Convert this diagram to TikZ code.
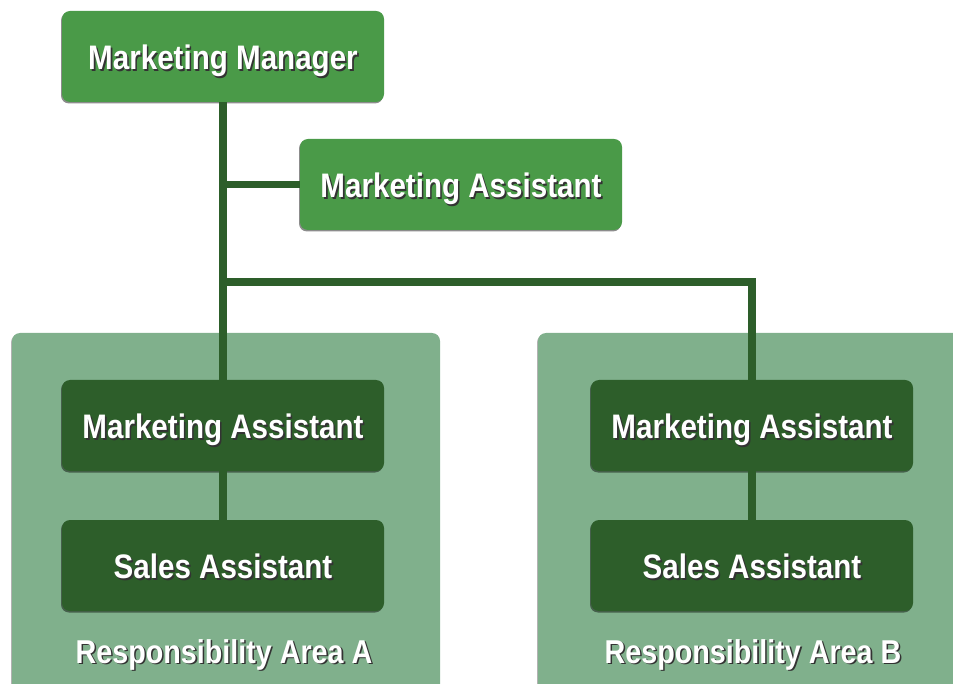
\documentclass[tikz,border=0pt]{standalone}
\usepackage{fontspec}
\setmainfont{Liberation Sans}[FakeStretch=0.87]
\usetikzlibrary{shadows}
\definecolor{midgreen}{RGB}{74,154,72}
\definecolor{darkgreen}{RGB}{45,94,42}
\definecolor{areagreen}{RGB}{128,176,140}
\definecolor{linegreen}{RGB}{45,94,42}
\newcommand\shtxt[1]{\rlap{\kern1.6pt\raisebox{-1.6pt}{\color{black!80}#1}}#1}
\tikzset{
  boxbase/.style={rounded corners=8pt, minimum width=322pt, minimum height=91pt,
    text=white, font=\fontsize{34}{38}\selectfont\bfseries, inner sep=0pt,
    text height=26pt, text depth=0pt,
    drop shadow={shadow xshift=-1pt, shadow yshift=-1.5pt, opacity=0.45, fill=black}},
  lightbox/.style={boxbase, fill=midgreen},
  darkbox/.style={boxbase, fill=darkgreen},
  areabox/.style={rounded corners=8pt, fill=areagreen,
    drop shadow={shadow xshift=-1pt, shadow yshift=-1.5pt, opacity=0.3, fill=black}},
  arealabel/.style={text=white, font=\fontsize{33}{36}\selectfont\bfseries, inner sep=0pt, anchor=base},
  conn/.style={draw=linegreen, line width=7.5pt}
}
\begin{document}
\begin{tikzpicture}[x=1pt,y=-1pt]
\useasboundingbox (0,0) rectangle (953,684);
% areas
\path[areabox] (12,333) rectangle (440,700);
\path[areabox] (538,333) rectangle (975,700);
% nodes
\node[lightbox] (mgr) at (223,56.5) {\shtxt{Marketing Manager}};
\node[lightbox] (atop) at (461,184.5) {\shtxt{Marketing Assistant}};
\node[darkbox] (maL) at (223,425.5) {\shtxt{Marketing Assistant}};
\node[darkbox] (saL) at (223,565.5) {\shtxt{Sales Assistant}};
\node[darkbox] (maR) at (752,425.5) {\shtxt{Marketing Assistant}};
\node[darkbox] (saR) at (752,565.5) {\shtxt{Sales Assistant}};
\node[arealabel] (labA) at (224,663) {\shtxt{Responsibility Area A}};
\node[arealabel] (labB) at (753,663) {\shtxt{Responsibility Area B}};
\coordinate (j) at (223,282);
% connectors
\draw[conn] (mgr.south) -- (maL.north);
\draw[conn] (mgr.south |- atop.west) -- (atop.west);
\draw[conn] ([xshift=-3.75pt]j) -| (maR.north);
\draw[conn] (maL.south) -- (saL.north);
\draw[conn] (maR.south) -- (saR.north);
\end{tikzpicture}
\end{document}
